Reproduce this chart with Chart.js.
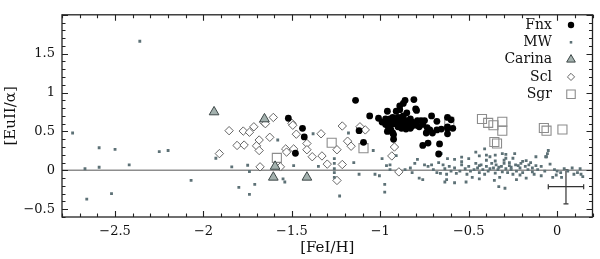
<!DOCTYPE html>
<html>
<head>
<meta charset="utf-8">
<script src="https://cdn.jsdelivr.net/npm/chart.js"></script>
<style>
  html, body { margin: 0; padding: 0; background: #fff; }
  canvas { display: block; }
</style>
</head>
<body>
<canvas id="euChart" width="600" height="259"></canvas>
<script>
// Data: [FeI/H] (x) vs [EuII/alpha] (y)
const fnxX = [-1.14, -1.06, -1.01, -0.96, -0.97, -0.97, -0.955, -0.945, -0.96, -0.93, -0.92, -0.93, -0.925, -0.925,
  -0.91, -0.89, -0.88, -0.89, -0.90, -0.87, -0.86, -0.87, -0.85, -0.855, -0.83, -0.82, -0.81, -0.80, -0.795, -0.79,
  -0.78, -0.77, -0.75, -0.735, -0.74, -0.71, -0.72, -0.705, -0.68, -0.68, -0.665, -0.655, -0.62, -0.62, -0.60, -0.59,
  -0.76, -0.73, -0.67, -1.095, -0.62, -0.62, -0.945, -0.935, -0.91, -0.90, -0.88, -0.84, -0.83, -0.955, -0.795, -0.76,
  -0.89, -0.99, -0.96, -0.94, -0.90, -0.86, -0.82, -0.80, -0.93, -0.87, -0.85,
  -1.52, -1.44, -1.43, -1.48, -1.12];
const fnxY = [0.90, 0.70, 0.67, 0.76, 0.66, 0.59, 0.63, 0.56, 0.50, 0.68, 0.60, 0.48, 0.46, 0.40,
  0.76, 0.78, 0.68, 0.63, 0.56, 0.86, 0.90, 0.58, 0.64, 0.53, 0.66, 0.62, 0.91, 0.79, 0.77, 0.64,
  0.56, 0.64, 0.64, 0.55, 0.48, 0.70, 0.52, 0.48, 0.63, 0.52, 0.34, 0.53, 0.54, 0.47, 0.65, 0.54,
  0.32, 0.35, 0.21, 0.36, 0.68, 0.56, 0.66, 0.60, 0.62, 0.68, 0.54, 0.58, 0.54, 0.56, 0.58, 0.59,
  0.83, 0.62, 0.60, 0.52, 0.58, 0.62, 0.57, 0.61, 0.64, 0.70, 0.74,
  0.67, 0.54, 0.43, 0.22, 0.51];

const mwX = [-2.74, -2.67, -2.66, -2.59, -2.59, -2.52, -2.50, -2.42, -2.36, -2.25, -2.20, -2.07,
  -1.93, -1.84, -1.80, -1.75, -1.74, -1.74, -1.71, -1.58, -1.55, -1.54, -1.49, -1.38, -1.35, -1.26, -1.26, -1.26,
  -1.26, -1.26, -1.23, -1.18, -1.15, -1.12, -1.04, -1.03, -1.005, -0.99, -0.975, -0.975, -0.965, -0.945,
  -0.945, -0.91, -0.86, -0.83, -0.82, -0.805, -0.79, -0.78, -0.76, -0.75, -0.73, -0.70, -0.68, -0.655, -0.645,
  -0.635, -0.625, -0.635, -0.71, -0.67, -0.66, -0.62, -0.61, -0.60, -0.58, -0.58, -0.57, -0.55, -0.54, -0.54,
  -0.54, -0.52, -0.51, -0.50, -0.50, -0.49, -0.48, -0.46, -0.46, -0.45, -0.44, -0.44, -0.43, -0.42, -0.41, -0.41,
  -0.40, -0.40, -0.39, -0.38, -0.37, -0.36, -0.35, -0.35, -0.345, -0.335, -0.325, -0.315, -0.31, -0.30, -0.29,
  -0.29, -0.29, -0.28, -0.27, -0.26, -0.25, -0.25, -0.24, -0.235, -0.23, -0.21, -0.205, -0.195, -0.195, -0.18,
  -0.175, -0.165, -0.16, -0.14, -0.13, -0.12, -0.11, -0.09, -0.09, -0.07, -0.065, -0.055, -0.05, -0.04,
  -0.625, -0.58, -0.515, -0.44, -0.355, -0.33, -0.295, -0.23, -0.175, -0.025,
  -0.015, 0.0, 0.02, 0.04, 0.06, 0.085, 0.095, 0.115, 0.13, 0.135, 0.145, 0.025, -0.005, -0.06,
  -0.47, -0.44, -0.38, -0.33, -0.31, -0.27, -0.26, -0.22, -0.21, -0.15, -0.14, -0.12, -0.40, -0.35, -0.30];
const mwY = [0.48, 0.02, -0.37, 0.29, 0.04, -0.30, 0.27, 0.07, 1.66, 0.24, 0.255, -0.13,
  0.155, 0.045, -0.22, 0.065, -0.015, -0.31, -0.18, 0.39, -0.11, -0.15, 0.06, 0.47, 0.05, 0.15, 0.09, 0.02,
  -0.03, -0.09, -0.33, 0.48, 0.10, -0.05, 0.255, -0.05, -0.07, 0.15, -0.18, -0.28, 0.06, 0.01,
  0.07, 0.19, 0.01, 0.03, -0.03, 0.09, 0.14, -0.10, -0.12, 0.07, 0.05, 0.01, -0.03, 0.215, 0.07,
  0.02, -0.05, -0.15, 0.07, 0.10, -0.04, 0.15, 0.05, -0.01, 0.14, 0.03, -0.04, -0.01, 0.17, 0.11,
  0.07, 0.02, -0.05, 0.15, 0.05, -0.01, -0.09, 0.09, 0.235, 0.03, 0.185, -0.03, 0.07, 0.01, -0.05, 0.275,
  0.195, 0.05, -0.01, 0.175, 0.09, 0.03, 0.195, -0.035, 0.07, 0.01, -0.09, 0.05, 0.215, 0.09, 0.205,
  0.02, 0.155, -0.03, 0.06, 0.01, -0.05, 0.155, 0.215, 0.07, -0.01, 0.03, 0.09, 0.115, -0.03, 0.05,
  0.125, 0.01, 0.07, 0.03, -0.05, 0.175, 0.01, 0.05, -0.07, -0.01, 0.175, 0.215, 0.255, 0.08,
  -0.12, -0.16, -0.15, -0.11, -0.13, -0.21, -0.23, -0.12, -0.10, -0.09,
  0.01, -0.01, -0.03, 0.02, -0.01, 0.03, -0.05, -0.03, 0.02, -0.05, -0.08, -0.09, -0.06, 0.175,
  0.01, 0.06, 0.02, 0.04, -0.02, 0.10, 0.04, 0.06, -0.06, 0.10, -0.02, 0.06, 0.13, 0.12, 0.13];

const carinaX = [-1.94, -1.655, -1.595, -1.605, -1.415];
const carinaY = [0.75, 0.66, 0.05, -0.09, -0.09];

const sclX = [-1.91, -1.855, -1.81, -1.775, -1.74, -1.715, -1.77, -1.685, -1.70, -1.685, -1.68, -1.66, -1.605,
  -1.625, -1.565, -1.535, -1.53, -1.49, -1.50, -1.495, -1.475, -1.415, -1.415, -1.385, -1.335, -1.33, -1.30,
  -1.245, -1.245, -1.215, -1.215, -1.185, -1.165, -1.115, -1.085, -0.92, -0.935, -0.895, -1.65];
const sclY = [0.215, 0.51, 0.32, 0.505, 0.49, 0.56, 0.325, 0.39, 0.315, 0.255, 0.045, 0.62, 0.68,
  0.425, 0.045, 0.275, 0.235, 0.275, 0.605, 0.58, 0.465, 0.345, 0.265, 0.175, 0.47, 0.185, 0.08,
  0.265, -0.13, 0.57, 0.075, 0.375, 0.31, 0.56, 0.52, 0.30, 0.185, -0.02, 0.60];

const sgrX = [-1.585, -1.275, -1.095, -0.61, -0.425, -0.39, -0.36, -0.31, -0.31, -0.355, -0.34, -0.075, -0.06, 0.03];
const sgrY = [0.16, 0.355, 0.285, 0.625, 0.66, 0.61, 0.58, 0.625, 0.51, 0.365, 0.345, 0.545, 0.51, 0.525];

// typical error bar drawn in the lower right corner
const errX = 0.05;
const errY = -0.21;
const errDx = 0.1;
const errDy = 0.22;

const xTicks = [-2.5, -2, -1.5, -1, -0.5, 0];
const yTicks = [-0.5, 0, 0.5, 1, 1.5];
const xRange = [-2.8, 0.2];
const yRange = [-0.6, 2.0];

const serif = '"DejaVu Serif", "Liberation Serif", serif';

function pts(xs, ys) {
  return xs.map((v, i) => ({ x: v, y: ys[i] }));
}

function fmt(v) {
  return v < 0 ? '\u2212' + Math.abs(v) : String(v);
}

// frame + inward ticks on all four sides
const frameTicks = {
  id: 'frameTicks',
  afterDatasetsDraw(chart) {
    const { ctx, chartArea: a, scales: { x, y } } = chart;
    ctx.save();
    ctx.strokeStyle = '#222';
    ctx.lineWidth = 1.1;
    ctx.beginPath();
    for (let k = -28; k <= 2; k++) {
      const px = Math.round(x.getPixelForValue(k / 10)) + 0.5;
      const len = k % 5 === 0 ? 6 : 3.5;
      ctx.moveTo(px, a.bottom);
      ctx.lineTo(px, a.bottom - len);
      ctx.moveTo(px, a.top);
      ctx.lineTo(px, a.top + len);
    }
    for (let k = -6; k <= 20; k++) {
      const py = Math.round(y.getPixelForValue(k / 10)) + 0.5;
      const len = k % 5 === 0 ? 6 : 3.5;
      ctx.moveTo(a.left, py);
      ctx.lineTo(a.left + len, py);
      ctx.moveTo(a.right, py);
      ctx.lineTo(a.right - len, py);
    }
    ctx.stroke();
    ctx.lineWidth = 1.3;
    ctx.strokeRect(a.left, a.top, a.right - a.left, a.bottom - a.top);
    ctx.restore();
  }
};

// legend in the upper right: label, then its marker
const sideLegend = {
  id: 'sideLegend',
  afterDraw(chart) {
    const { ctx } = chart;
    const items = chart.data.datasets.filter(d => d.inLegend);
    ctx.save();
    ctx.font = '14px ' + serif;
    ctx.fillStyle = '#111';
    ctx.textAlign = 'right';
    ctx.textBaseline = 'middle';
    items.forEach((d, i) => {
      const ty = 25 + i * 17.3;
      ctx.fillText(d.label, 552, ty);
      const mx = 571;
      ctx.fillStyle = d.backgroundColor;
      ctx.strokeStyle = d.borderColor;
      ctx.lineWidth = d.borderWidth;
      ctx.beginPath();
      const r = d.legendR;
      if (d.pointStyle === 'circle') {
        ctx.arc(mx, ty, r, 0, Math.PI * 2);
      } else if (d.pointStyle === 'rect') {
        ctx.rect(mx - r * 0.707, ty - r * 0.707, r * 1.414, r * 1.414);
      } else if (d.pointStyle === 'triangle') {
        ctx.moveTo(mx, ty - r);
        ctx.lineTo(mx + r * 0.866, ty + r / 2);
        ctx.lineTo(mx - r * 0.866, ty + r / 2);
        ctx.closePath();
      } else if (d.pointStyle === 'rectRot') {
        ctx.moveTo(mx - r, ty);
        ctx.lineTo(mx, ty - r);
        ctx.lineTo(mx + r, ty);
        ctx.lineTo(mx, ty + r);
        ctx.closePath();
      }
      ctx.fill();
      if (d.borderWidth) ctx.stroke();
      ctx.fillStyle = '#111';
    });
    ctx.restore();
  }
};

const ctx = document.getElementById('euChart').getContext('2d');

const chart = new Chart(ctx, {
  type: 'scatter',
  data: {
    datasets: [{
      label: 'Fnx',
      inLegend: true,
      legendR: 3.2,
      data: pts(fnxX, fnxY),
      pointStyle: 'circle',
      pointRadius: 3.4,
      backgroundColor: '#000',
      borderColor: '#000',
      borderWidth: 0,
    }, {
      label: 'MW',
      inLegend: true,
      legendR: 1.8,
      data: pts(mwX, mwY),
      pointStyle: 'rect',
      pointRadius: 2.0,
      backgroundColor: '#5d7176',
      borderColor: '#5d7176',
      borderWidth: 0,
    }, {
      label: 'Carina',
      inLegend: true,
      legendR: 5,
      data: pts(carinaX, carinaY),
      pointStyle: 'triangle',
      pointRadius: 5.6,
      backgroundColor: '#a3b1ae',
      borderColor: '#3d4747',
      borderWidth: 1,
    }, {
      label: 'Scl',
      inLegend: true,
      legendR: 3.6,
      data: pts(sclX, sclY),
      pointStyle: 'rectRot',
      pointRadius: 4.2,
      backgroundColor: '#fff',
      borderColor: '#555',
      borderWidth: 0.9,
    }, {
      label: 'Sgr',
      inLegend: true,
      legendR: 6,
      data: pts(sgrX, sgrY),
      pointStyle: 'rect',
      pointRadius: 6.4,
      backgroundColor: 'rgba(255,255,255,0)',
      borderColor: '#8c8c8c',
      borderWidth: 1.1,
    }, {
      label: 'zero',
      type: 'line',
      data: [{ x: xRange[0], y: 0 }, { x: xRange[1], y: 0 }],
      borderColor: '#8d8d8d',
      borderWidth: 1.5,
      pointRadius: 0,
    }, {
      label: 'errX',
      type: 'line',
      data: [{ x: errX - errDx, y: errY }, { x: errX + errDx, y: errY }],
      borderColor: '#333',
      borderWidth: 1.2,
      pointStyle: 'line',
      pointRotation: 90,
      pointRadius: 2.5,
      pointBorderWidth: 1.2,
    }, {
      label: 'errY',
      type: 'line',
      data: [{ x: errX, y: errY - errDy }, { x: errX, y: errY + errDy }],
      borderColor: '#333',
      borderWidth: 1.2,
      pointStyle: 'line',
      pointRadius: 2.5,
      pointBorderWidth: 1.2,
    }],
  },
  options: {
    responsive: false,
    animation: false,
    devicePixelRatio: 1,
    layout: { padding: { left: 0, right: 3, top: 4, bottom: 0 } },
    plugins: {
      legend: { display: false },
      tooltip: { enabled: false },
    },
    scales: {
      x: {
        type: 'linear',
        min: xRange[0],
        max: xRange[1],
        afterBuildTicks: (s) => { s.ticks = xTicks.map(v => ({ value: v })); },
        afterFit: (s) => { s.height = 42; },
        grid: { display: false, drawTicks: false },
        border: { display: false },
        ticks: {
          padding: 7,
          autoSkip: false,
          maxRotation: 0,
          color: '#111',
          font: { family: serif, size: 13 },
          callback: (v) => fmt(v),
        },
        title: {
          display: true,
          text: '[FeI/H]',
          color: '#111',
          font: { family: serif, size: 15 },
          padding: { top: 0, bottom: 2 },
        },
      },
      y: {
        type: 'linear',
        min: yRange[0],
        max: yRange[1],
        afterBuildTicks: (s) => { s.ticks = yTicks.map(v => ({ value: v })); },
        afterFit: (s) => { s.width = 62; },
        grid: { display: false, drawTicks: false },
        border: { display: false },
        ticks: {
          padding: 7,
          autoSkip: false,
          color: '#111',
          font: { family: serif, size: 13 },
          callback: (v) => fmt(v),
        },
        title: {
          display: true,
          text: '[EuII/\u03b1]',
          color: '#111',
          font: { family: serif, size: 15 },
          padding: { top: 2, bottom: 0 },
        },
      },
    },
  },
  plugins: [frameTicks, sideLegend],
});
</script>
</body>
</html>
